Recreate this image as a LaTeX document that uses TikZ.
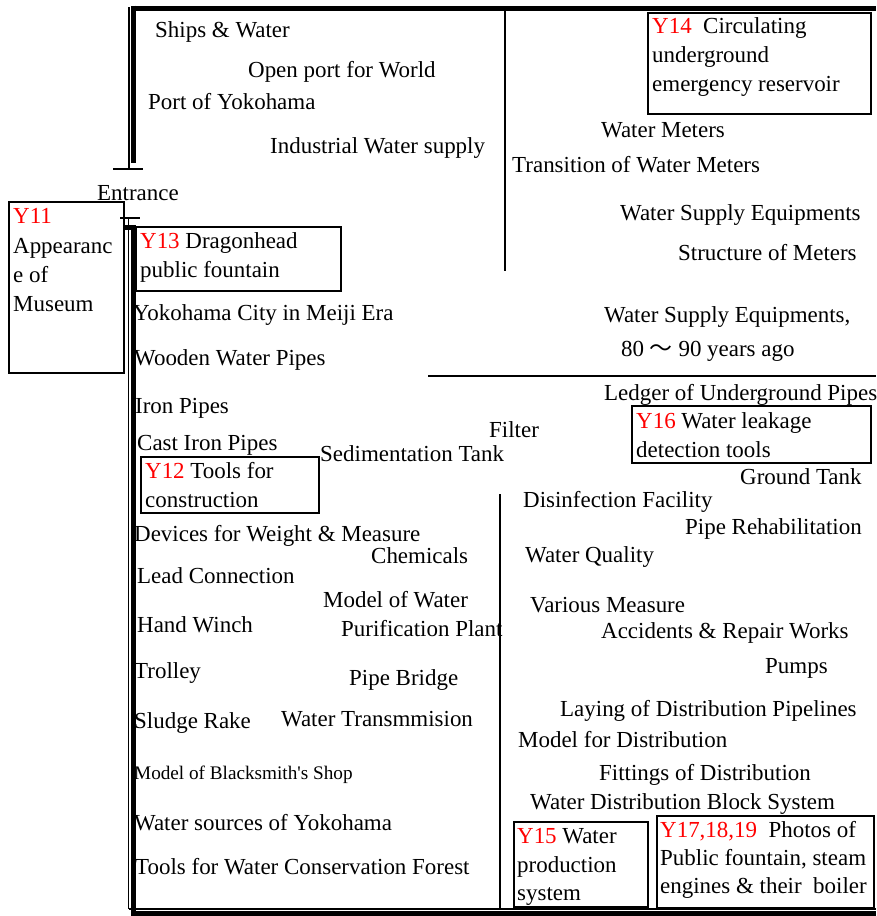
\documentclass[tikz,border=0pt]{standalone}
\usepackage{fontspec}
\setmainfont{Liberation Serif}[Ligatures=TeXOff]
\newfontfamily\cjkfont{Noto Sans CJK JP}
\definecolor{tagred}{RGB}{255,0,0}
\newcommand\idtag[1]{\textcolor{tagred}{#1}}
\begin{document}
\begin{tikzpicture}[x=1pt,y=-1pt,
  lbl/.style={anchor=base west, inner sep=0pt, font=\fontsize{22.95}{29}\selectfont},
  smalllbl/.style={lbl, font=\fontsize{19.2}{24}\selectfont},
  box/.style={draw, line width=1.5pt, anchor=north west, inner sep=0pt},
  thinwall/.style={line width=1.3pt},
  thickwall/.style={line width=5pt},
  partition/.style={line width=1.5pt},
  tick/.style={line width=1.5pt}]
\useasboundingbox (0,0) rectangle (876,916);

% ---- outer walls (double line: thin outside, thick inside) ----
% upper wall segment
\draw[thinwall] (129,7) -- (129,169);
\draw[thickwall] (133.5,5.5) -- (133.5,163);
\draw[thickwall] (131,8) -- (876,8);
\draw[tick] (113,169) -- (143,169);
% lower wall segment
\draw[tick] (120,218) -- (140,218);
\draw[thinwall] (128.5,218) -- (128.5,909);
\draw[thickwall] (133.5,225) -- (133.5,916);
\draw[thickwall] (124,227) -- (136,227);
\draw[thinwall] (128.5,909) -- (876,909);
\draw[thickwall] (131,913.5) -- (876,913.5);

% ---- inner partitions ----
\draw[partition] (505,10) -- (505,271);
\draw[partition] (428,376) -- (876,376);
\draw[partition] (500,494) -- (500,910);

% ---- numbered exhibit boxes ----
\node[box, minimum width=115, minimum height=171] (y11box) at (8,201) {};
\node[lbl] (y11a) at (13,223) {\idtag{Y11}};
\node[lbl] (y11b) at (13,253) {Appearanc};
\node[lbl] (y11c) at (13,282) {e of};
\node[lbl] (y11d) at (13,311) {Museum};

\node[box, minimum width=205, minimum height=64] (y13box) at (135,226) {};
\node[lbl] (y13a) at (140,248) {\idtag{Y13} Dragonhead};
\node[lbl] (y13b) at (140,277) {public fountain};

\node[box, minimum width=223, minimum height=101] (y14box) at (647,12) {};
\node[lbl] (y14a) at (652,33) {\idtag{Y14}\ \ Circulating};
\node[lbl] (y14b) at (652,62) {underground};
\node[lbl] (y14c) at (652,91) {emergency reservoir};

\node[box, minimum width=239, minimum height=57] (y16box) at (631,405) {};
\node[lbl] (y16a) at (636,428) {\idtag{Y16} Water leakage};
\node[lbl] (y16b) at (636,457) {detection tools};

\node[box, minimum width=178, minimum height=56] (y12box) at (140,456) {};
\node[lbl] (y12a) at (145,478) {\idtag{Y12} Tools for};
\node[lbl] (y12b) at (145,507) {construction};

\node[box, minimum width=134, minimum height=85] (y15box) at (513,821) {};
\node[lbl] (y15a) at (517,843) {\idtag{Y15} Water};
\node[lbl] (y15b) at (517,872) {production};
\node[lbl] (y15c) at (517,900) {system};

\node[box, minimum width=217, minimum height=92] (y17box) at (656,815) {};
\node[lbl] (y17a) at (660,837) {\idtag{Y17,18,19}\ \ Photos of};
\node[lbl] (y17b) at (660,865) {Public fountain, steam};
\node[lbl] (y17c) at (660,893) {engines \& their\ \ boiler};

% ---- exhibit labels ----
\node[lbl] (entrance) at (97,200) {Entrance};
\node[lbl] (ships) at (155,37) {Ships \& Water};
\node[lbl] (openport) at (248,77) {Open port for World};
\node[lbl] (portyoko) at (148,109) {Port of Yokohama};
\node[lbl] (industrial) at (270,153) {Industrial Water supply};
\node[lbl] (meters) at (601,137) {Water Meters};
\node[lbl] (transition) at (512,172) {Transition of Water Meters};
\node[lbl] (supplyeq) at (620,220) {Water Supply Equipments};
\node[lbl] (structure) at (678,260) {Structure of Meters};
\node[lbl] (supplyold) at (604,322) {Water Supply Equipments,};
\node[lbl] (yearsago) at (621,356) {80 {\cjkfont ～} 90 years ago};
\node[lbl] (meiji) at (133,320) {Yokohama City in Meiji Era};
\node[lbl] (wooden) at (134,365) {Wooden Water Pipes};
\node[lbl] (iron) at (135,413) {Iron Pipes};
\node[lbl] (castiron) at (137,450) {Cast Iron Pipes};
\node[lbl] (sediment) at (320,461) {Sedimentation Tank};
\node[lbl] (filter) at (489,437) {Filter};
\node[lbl] (ledger) at (604,400) {Ledger of Underground Pipes};
\node[lbl] (groundtank) at (740,484) {Ground Tank};
\node[lbl] (disinfect) at (523,507) {Disinfection Facility};
\node[lbl] (rehab) at (685,534) {Pipe Rehabilitation};
\node[lbl] (devices) at (134,541) {Devices for Weight \& Measure};
\node[lbl] (chemicals) at (371,563) {Chemicals};
\node[lbl] (quality) at (525,562) {Water Quality};
\node[lbl] (lead) at (137,583) {Lead Connection};
\node[lbl] (modelwater) at (323,607) {Model of Water};
\node[lbl] (purification) at (341,636) {Purification Plant};
\node[lbl] (various) at (530,612) {Various Measure};
\node[lbl] (accidents) at (601,638) {Accidents \& Repair Works};
\node[lbl] (winch) at (137,632) {Hand Winch};
\node[lbl] (pumps) at (765,673) {Pumps};
\node[lbl] (trolley) at (134,678) {Trolley};
\node[lbl] (bridge) at (349,685) {Pipe Bridge};
\node[lbl] (sludge) at (134,728) {Sludge Rake};
\node[lbl] (transmission) at (281,726) {Water Transmmision};
\node[lbl] (laying) at (560,716) {Laying of Distribution Pipelines};
\node[lbl] (modeldist) at (518,747) {Model for Distribution};
\node[smalllbl] (blacksmith) at (134,779) {Model of Blacksmith's Shop};
\node[lbl] (fittings) at (599,780) {Fittings of Distribution};
\node[lbl] (block) at (530,809) {Water Distribution Block System};
\node[lbl] (sources) at (134,830) {Water sources of Yokohama};
\node[lbl] (forest) at (135,874) {Tools for Water Conservation Forest};
\end{tikzpicture}
\end{document}
